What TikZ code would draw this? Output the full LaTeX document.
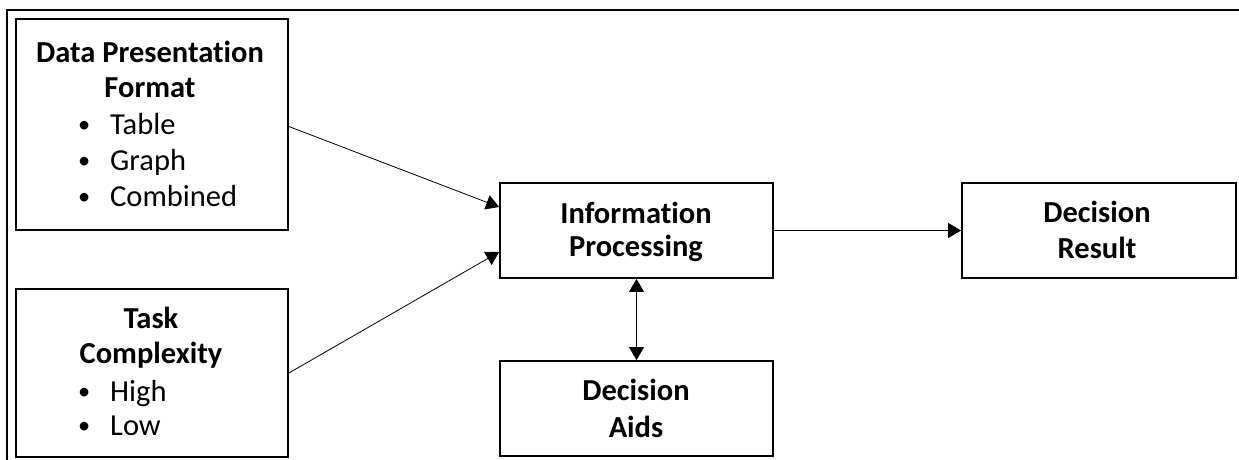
\documentclass[tikz,border=0pt]{standalone}
\usepackage{fontspec}
\setmainfont{Carlito}[RawFeature={-liga}]
\usetikzlibrary{arrows.meta}
\newcommand{\bul}[1]{\makebox[32pt][l]{\raisebox{1.5pt}{\scalebox{0.8}{•}}}#1}
\begin{document}
\begin{tikzpicture}[x=1pt,y=-1pt,
  box/.style={draw, line width=1.8pt, inner sep=0pt},
  hd/.style={font=\fontsize{30.5}{36}\selectfont\bfseries, anchor=base, inner sep=0pt},
  it/.style={font=\fontsize{30.5}{36}\selectfont, anchor=base west, inner sep=0pt},
  conn/.style={line width=0.8pt, -{Triangle[length=13pt,width=15pt]}},
  dconn/.style={line width=0.8pt, {Triangle[length=13pt,width=15pt]}-{Triangle[length=13pt,width=15pt]}}]
\useasboundingbox (0,0) rectangle (1239,460);
% outer frame lines
\coordinate (fa) at (7,460);
\coordinate (fb) at (7,10);
\coordinate (fc) at (1239,10);
\draw[line width=2.8pt] (fa) -- (fb) -- (fc);
% boxes
\node[box, minimum width=272pt, minimum height=211pt] (dpf) at (152,124.5) {};
\node[box, minimum width=272pt, minimum height=168pt] (tc) at (152,373) {};
\node[box, minimum width=273pt, minimum height=95pt] (ip) at (636.5,230.5) {};
\node[box, minimum width=273pt, minimum height=95pt] (da) at (636.5,408.5) {};
\node[box, minimum width=274pt, minimum height=95pt] (dr) at (1099,230.5) {};
% texts
\node[hd] (dpf1) at (150,63) {Data Presentation};
\node[hd] (dpf2) at (150,97) {Format};
\node[it] (dpf3) at (78,134) {\bul{Table}};
\node[it] (dpf4) at (78,170) {\bul{Graph}};
\node[it] (dpf5) at (78,206) {\bul{Combined}};
\node[hd] (tc1) at (151,328) {Task};
\node[hd] (tc2) at (151,363) {Complexity};
\node[it] (tc3) at (78,401) {\bul{High}};
\node[it] (tc4) at (78,435) {\bul{Low}};
\node[hd] (ip1) at (636,223) {Information};
\node[hd] (ip2) at (636,256) {Processing};
\node[hd] (da1) at (636,400) {Decision};
\node[hd] (da2) at (636,437) {Aids};
\node[hd] (dr1) at (1097,222) {Decision};
\node[hd] (dr2) at (1097,258) {Result};
% connectors
\draw[conn] ([yshift=-2pt]dpf.east) -- ([yshift=23.5pt]ip.west);
\draw[conn] (tc.east) -- ([yshift=-21.5pt]ip.west);
\draw[conn] (ip.east) -- (dr.west);
\draw[dconn] (ip.south) -- (da.north);
\end{tikzpicture}
\end{document}
